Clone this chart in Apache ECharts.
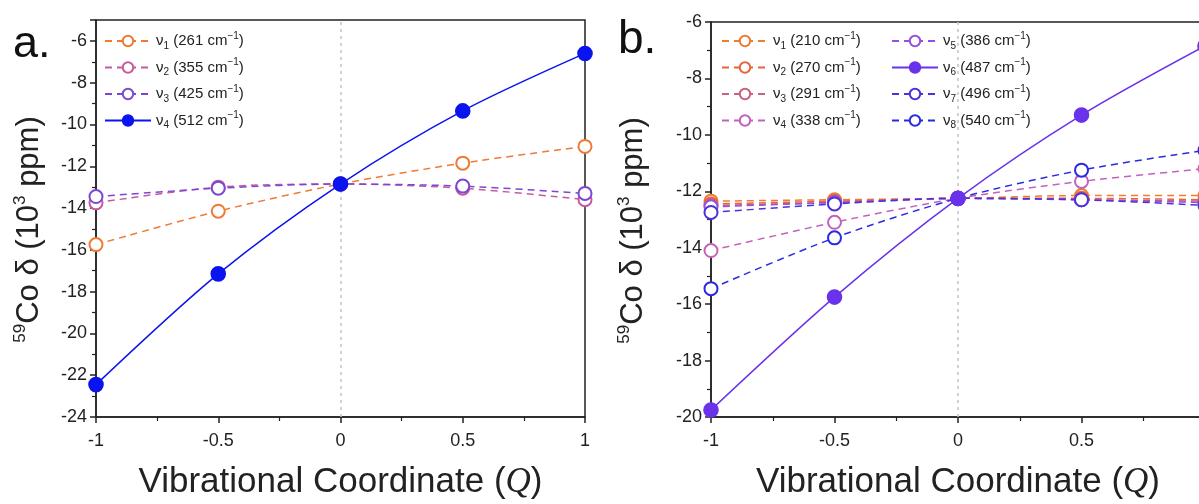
<!DOCTYPE html>
<html>
<head>
<meta charset="utf-8">
<title>59Co shielding vs vibrational coordinate</title>
<script src="https://cdn.jsdelivr.net/npm/echarts@6/dist/echarts.min.js"></script>
<style>
  html, body { margin: 0; padding: 0; background: #fff; }
  #main { width: 1199px; height: 504px; }
</style>
</head>
<body>
<div id="main"></div>
<script>
// x positions (vibrational coordinate Q)
var qValues = [-1, -0.5, 0, 0.5, 1];

// panel a: modes and 59Co shift (10^3 ppm)
var aModes = ['1', '2', '3', '4'];
var aWavenumbers = [261, 355, 425, 512];
var aNu1 = [-15.75, -14.15, -12.85, -11.85, -11.05];
var aNu2 = [-13.75, -13.0, -12.85, -13.05, -13.6];
var aNu3 = [-13.45, -13.05, -12.85, -12.95, -13.3];
var aNu4 = [-22.45, -17.15, -12.85, -9.35, -6.6];

// panel b
var bModes = ['1', '2', '3', '4', '5', '6', '7', '8'];
var bWavenumbers = [210, 270, 291, 338, 386, 487, 496, 540];
var bNu1 = [-12.35, -12.3, -12.25, -12.15, -12.15];
var bNu2 = [-12.45, -12.35, -12.25, -12.25, -12.3];
var bNu3 = [-12.5, -12.4, -12.25, -12.3, -12.35];
var bNu4 = [-14.1, -13.1, -12.25, -11.65, -11.2];
var bNu5 = [-12.55, -12.4, -12.25, -12.3, -12.4];
var bNu6 = [-19.75, -15.75, -12.25, -9.3, -6.85];
var bNu7 = [-12.75, -12.45, -12.25, -12.3, -12.5];
var bNu8 = [-15.45, -13.65, -12.25, -11.25, -10.55];

var aColors = ['#ef7a35', '#c85a9c', '#7a48d4', '#0a14ee'];
var bColors = ['#f07c30', '#e6653c', '#c9627e', '#c262bc', '#9650dc', '#6a32ea', '#4a32dc', '#2a2ae2'];

var FONT = 'Liberation Sans, Arial, sans-serif';
var chart = echarts.init(document.getElementById('main'), null, { renderer: 'canvas' });

function pairs(ys) {
	return qValues.map(function(q, i) { return [q, ys[i]]; });
}

function legendName(panel, mode, wn) {
	return panel + mode + '|' + wn;
}

// legend text: ν_n (xxx cm^-1)
function legendFormatter(name) {
	var parts = name.split('|');
	var mode = parts[0].substring(1);
	return '{t|ν}{sub|' + mode + '}{t| (' + parts[1] + ' cm}{sup|−1}{t|)}';
}

var legendRich = {
	t: { fontSize: 15, fontFamily: FONT, color: '#222', lineHeight: 20 },
	sub: { fontSize: 10, fontFamily: FONT, color: '#222', verticalAlign: 'bottom', lineHeight: 20 },
	sup: { fontSize: 10, fontFamily: FONT, color: '#222', verticalAlign: 'top', lineHeight: 20 }
};

function makeSeries(panel, idx, modes, wns, ys, color, filled, extra) {
	var s = {
		name: legendName(panel, modes[idx], wns[idx]),
		type: 'line',
		xAxisIndex: panel === 'a' ? 0 : 1,
		yAxisIndex: panel === 'a' ? 0 : 1,
		data: pairs(ys),
		smooth: 0.3,
		symbol: filled ? 'circle' : 'emptyCircle',
		symbolSize: filled ? 14 : 13,
		showAllSymbol: true,
		clip: false,
		lineStyle: { color: color, width: 1.5, type: filled ? 'solid' : [7, 5] },
		itemStyle: { color: color, borderColor: color, borderWidth: 1.6 },
		emphasis: { disabled: true },
		z: filled ? 5 : 3
	};
	if (extra) s.markLine = extra;
	return s;
}

// dotted grey line at Q = 0
var zeroLine = {
	silent: true,
	symbol: ['none', 'none'],
	label: { show: false },
	lineStyle: { color: '#c4c4c4', type: [3, 4], width: 1.5 },
	data: [{ xAxis: 0 }],
	animation: false,
	z: 1
};

var aSeriesData = [aNu1, aNu2, aNu3, aNu4];
var bSeriesData = [bNu1, bNu2, bNu3, bNu4, bNu5, bNu6, bNu7, bNu8];

var series = [];
aSeriesData.forEach(function(ys, i) {
	series.push(makeSeries('a', i, aModes, aWavenumbers, ys, aColors[i], i === 3, i === 0 ? zeroLine : null));
});
bSeriesData.forEach(function(ys, i) {
	series.push(makeSeries('b', i, bModes, bWavenumbers, ys, bColors[i], i === 5, i === 0 ? zeroLine : null));
});

function legendNames(panel, modes, wns, from, to) {
	var out = [];
	for (var i = from; i < to; i++) out.push(legendName(panel, modes[i], wns[i]));
	return out;
}

function makeLegend(names, left, top) {
	return {
		orient: 'vertical',
		left: left,
		top: top,
		data: names,
		itemWidth: 46,
		itemHeight: 13,
		itemGap: 6.5,
		selectedMode: false,
		formatter: legendFormatter,
		textStyle: { rich: legendRich, padding: [0, 0, 0, 0] }
	};
}

function xAxisOf(gridIndex) {
	return {
		type: 'value',
		gridIndex: gridIndex,
		min: -1,
		max: 1,
		interval: 0.5,
		name: '{n|Vibrational Coordinate (}{q|Q}{n|)}',
		nameLocation: 'middle',
		nameGap: 48,
		nameTextStyle: {
			rich: {
				n: { fontSize: 35, fontFamily: FONT, color: '#222' },
				q: { fontSize: 35, fontFamily: 'Liberation Serif, DejaVu Serif, serif', fontStyle: 'italic', color: '#222' }
			}
		},
		axisLine: { onZero: false, lineStyle: { color: '#222', width: 1.5 } },
		axisTick: { show: true, length: 6, lineStyle: { color: '#222', width: 1.5 } },
		minorTick: { show: true, splitNumber: 2, length: 4, lineStyle: { color: '#222', width: 1.2 } },
		axisLabel: { fontSize: 18, fontFamily: FONT, color: '#222', margin: 15 },
		splitLine: { show: false }
	};
}

function yAxisOf(gridIndex, min, max, gap) {
	return {
		type: 'value',
		gridIndex: gridIndex,
		min: min,
		max: max,
		interval: 2,
		name: '{sup|59}{n|Co δ (10}{sup|3}{n| ppm)}',
		nameLocation: 'middle',
		nameRotate: 90,
		nameGap: gap,
		nameTextStyle: {
			// extra space at the end nudges the title a little downwards
			padding: [0, 22, 0, 0],
			rich: {
				n: { fontSize: 31, fontFamily: FONT, color: '#222', lineHeight: 34 },
				sup: { fontSize: 17, fontFamily: FONT, color: '#222', verticalAlign: 'top', lineHeight: 34 }
			}
		},
		axisLine: { onZero: false, lineStyle: { color: '#222', width: 1.5 } },
		axisTick: { show: true, length: 6, lineStyle: { color: '#222', width: 1.5 } },
		minorTick: { show: true, splitNumber: 2, length: 4, lineStyle: { color: '#222', width: 1.2 } },
		axisLabel: { fontSize: 18, fontFamily: FONT, color: '#222', margin: 9, showMaxLabel: max % 2 === 0 },
		splitLine: { show: false }
	};
}

var option = {
	backgroundColor: '#fff',
	animation: false,
	title: [
		{ text: 'a.', left: 8, top: 17, textStyle: { fontSize: 45, fontWeight: 'normal', fontFamily: FONT, color: '#111' } },
		{ text: 'b.', left: 613, top: 12, textStyle: { fontSize: 46, fontWeight: 'normal', fontFamily: FONT, color: '#111' } }
	],
	grid: [
		{ left: 96, top: 20, width: 489, height: 397, show: true, borderColor: '#222', borderWidth: 1.5, backgroundColor: 'transparent', outerBoundsMode: 'none', containLabel: false },
		{ left: 711, top: 22, width: 494, height: 395, show: true, borderColor: '#222', borderWidth: 1.5, backgroundColor: 'transparent', outerBoundsMode: 'none', containLabel: false }
	],
	xAxis: [xAxisOf(0), xAxisOf(1)],
	yAxis: [yAxisOf(0, -24, -5, 50), yAxisOf(1, -20, -6, 61)],
	legend: [
		makeLegend(legendNames('a', aModes, aWavenumbers, 0, 4), 99, 26),
		makeLegend(legendNames('b', bModes, bWavenumbers, 0, 4), 716, 26),
		makeLegend(legendNames('b', bModes, bWavenumbers, 4, 8), 886, 26)
	],
	series: series
};

chart.setOption(option);
</script>
</body>
</html>
